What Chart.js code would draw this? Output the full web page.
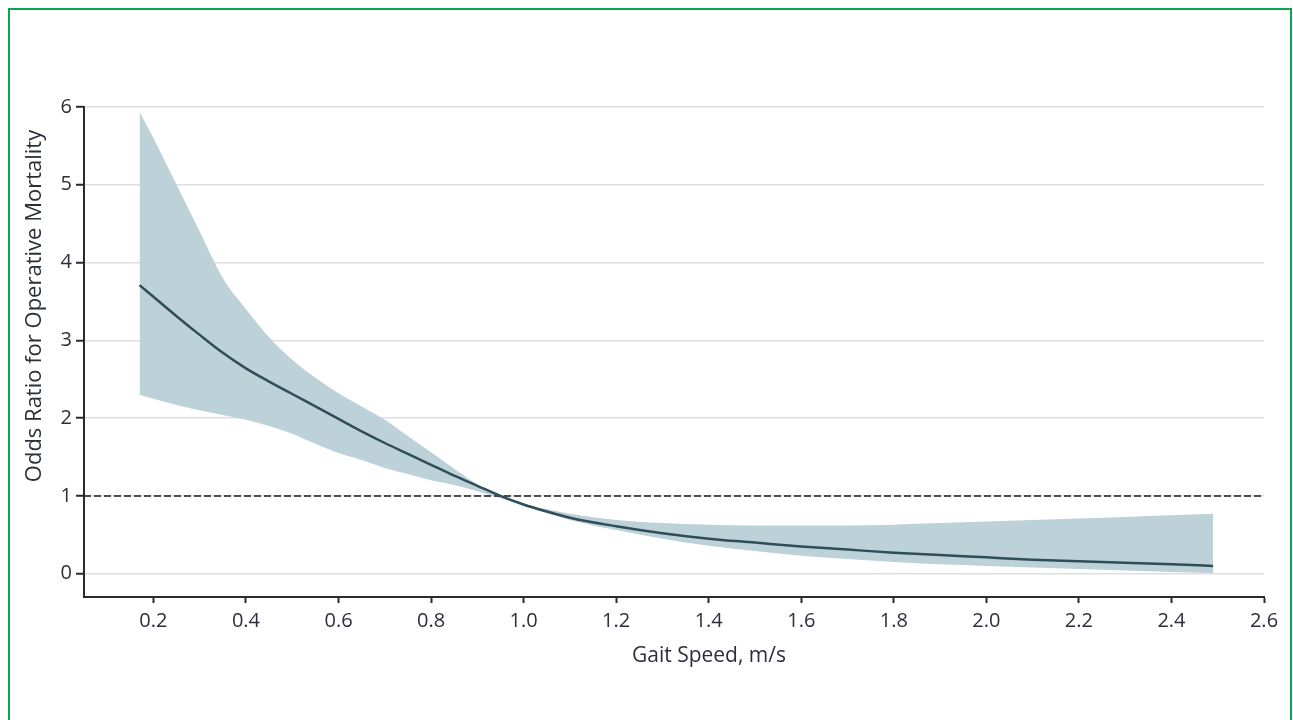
<!DOCTYPE html>
<html>
<head>
<meta charset="utf-8">
<script src="https://cdn.jsdelivr.net/npm/chart.js@4/dist/chart.umd.min.js"></script>
<style>
    html, body { margin: 0; padding: 0; background: #fff; }
    #wrap { position: relative; width: 1293px; height: 720px; overflow: hidden; }
    #moldura { position: absolute; left: 8px; top: 8px; width: 1280px; height: 760px; border: 2px solid #0aa64b; pointer-events: none; }
    canvas { position: absolute; left: 0; top: 0; }
</style>
</head>
<body>
<div id="wrap">
    <canvas id="grafico" width="1293" height="720"></canvas>
    <div id="moldura"></div>
</div>
<script>
// velocidade da marcha (m/s)
const velocidades = [0.17, 0.2, 0.25, 0.3, 0.35, 0.4, 0.45, 0.5, 0.55, 0.6, 0.65, 0.7, 0.75, 0.8, 0.85, 0.9, 0.95, 1.0,
    1.05, 1.1, 1.2, 1.3, 1.4, 1.5, 1.6, 1.7, 1.8, 1.9, 2.0, 2.1, 2.2, 2.3, 2.4, 2.49];

const oddsRatio = [3.71, 3.56, 3.31, 3.07, 2.84, 2.64, 2.47, 2.31, 2.15, 1.99, 1.83, 1.68, 1.54, 1.40, 1.26, 1.13, 1.00, 0.89,
    0.80, 0.72, 0.61, 0.52, 0.45, 0.40, 0.35, 0.31, 0.27, 0.24, 0.21, 0.18, 0.16, 0.14, 0.12, 0.10];

const icSuperior = [5.94, 5.60, 5.00, 4.40, 3.80, 3.40, 3.04, 2.75, 2.52, 2.32, 2.15, 1.98, 1.77, 1.56, 1.35, 1.15, 1.00, 0.90,
    0.83, 0.77, 0.69, 0.65, 0.63, 0.62, 0.62, 0.62, 0.63, 0.65, 0.67, 0.69, 0.71, 0.73, 0.75, 0.77];

const icInferior = [2.30, 2.25, 2.17, 2.10, 2.04, 1.98, 1.90, 1.80, 1.67, 1.55, 1.46, 1.36, 1.28, 1.20, 1.14, 1.06, 0.97, 0.87,
    0.78, 0.69, 0.56, 0.45, 0.36, 0.29, 0.23, 0.19, 0.15, 0.12, 0.10, 0.08, 0.06, 0.04, 0.02, 0.01];

const referencia = 1;
const xMin = 0.05, xMax = 2.6;
const yMin = -0.3, yMax = 6;
const ticksX = [0.2, 0.4, 0.6, 0.8, 1.0, 1.2, 1.4, 1.6, 1.8, 2.0, 2.2, 2.4, 2.6];
const ticksY = [0, 1, 2, 3, 4, 5, 6];

const tituloX = "Gait Speed, m/s";
const tituloY = "Odds Ratio for Operative Mortality";

const FONTE = "'Open Sans', 'Noto Sans', sans-serif";
const COR_TEXTO = "#2c2f3a";
const COR_EIXO = "#2a2a2a";

const pontos = arr => velocidades.map((v, i) => ({ x: v, y: arr[i] }));

// titulos dos eixos (posicao igual a figura original)
const titulosEixos = {
    id: "titulosEixos",
    afterDraw(chart) {
        const ctx = chart.ctx;
        ctx.save();
        ctx.fillStyle = COR_TEXTO;
        ctx.textAlign = "center";
        ctx.textBaseline = "middle";
        ctx.font = `21px ${FONTE}`;
        ctx.fillText(tituloX, 709, 656);
        ctx.font = `22px ${FONTE}`;
        ctx.translate(35, 306);
        ctx.rotate(-Math.PI / 2);
        ctx.fillText(tituloY, 0, 0);
        ctx.restore();
    }
};

new Chart(document.getElementById("grafico").getContext("2d"), {
    type: "line",
    data: {
        datasets: [
            {
                label: "OR",
                data: pontos(oddsRatio),
                borderColor: "#2f4e58",
                borderWidth: 2.5,
                pointRadius: 0,
                fill: false,
                cubicInterpolationMode: "monotone",
                order: 0
            },
            {
                label: "Referência",
                data: [{ x: xMin, y: referencia }, { x: xMax, y: referencia }],
                borderColor: "#1a1a1a",
                borderWidth: 1.5,
                borderDash: [7, 3],
                pointRadius: 0,
                fill: false,
                order: 1
            },
            {
                label: "IC superior",
                data: pontos(icSuperior),
                borderWidth: 0,
                borderColor: "rgba(0,0,0,0)",
                backgroundColor: "#bdd1d8",
                pointRadius: 0,
                fill: "+1",
                cubicInterpolationMode: "monotone",
                order: 2
            },
            {
                label: "IC inferior",
                data: pontos(icInferior),
                borderWidth: 0,
                borderColor: "rgba(0,0,0,0)",
                pointRadius: 0,
                fill: false,
                cubicInterpolationMode: "monotone",
                order: 3
            }
        ]
    },
    options: {
        responsive: false,
        animation: false,
        layout: { padding: { left: 0, top: 107, right: 29, bottom: 0 } },
        plugins: { legend: { display: false }, tooltip: { enabled: false } },
        scales: {
            x: {
                type: "linear",
                min: xMin,
                max: xMax,
                afterBuildTicks: s => { s.ticks = ticksX.map(v => ({ value: v })); },
                afterFit: s => { s.height = 123; },
                border: { color: COR_EIXO, width: 2 },
                grid: { drawOnChartArea: false, drawTicks: true, tickLength: 6, tickColor: COR_EIXO, tickWidth: 2 },
                ticks: {
                    color: COR_TEXTO,
                    padding: 6,
                    maxRotation: 0,
                    font: { family: FONTE, size: 20 },
                    callback: v => v.toFixed(1)
                }
            },
            y: {
                type: "linear",
                min: yMin,
                max: yMax,
                afterBuildTicks: s => { s.ticks = ticksY.map(v => ({ value: v })); },
                afterFit: s => { s.width = 84; },
                border: { color: COR_EIXO, width: 2 },
                grid: { color: "#dcdfe1", lineWidth: 1.5, drawTicks: true, tickLength: 8, tickColor: COR_EIXO, tickWidth: 2 },
                ticks: {
                    color: COR_TEXTO,
                    padding: 4,
                    font: { family: FONTE, size: 20 },
                    callback: v => String(v)
                }
            }
        }
    },
    plugins: [titulosEixos]
});
</script>
</body>
</html>
